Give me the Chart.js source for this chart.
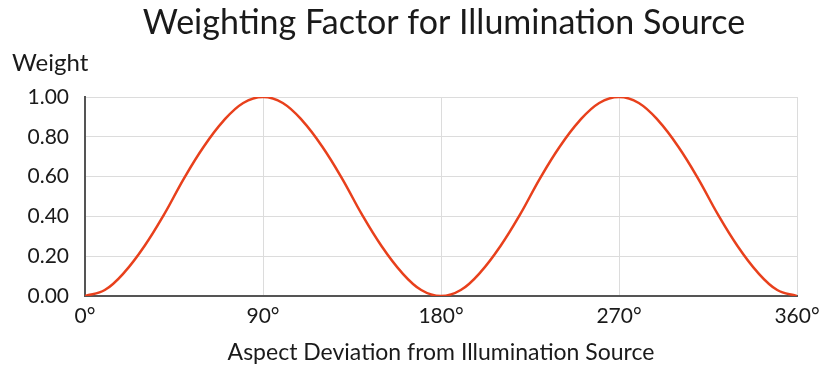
<!DOCTYPE html>
<html>
<head>
  <title>Weighting Factor for Illumination Source</title>
  <script src="https://cdn.jsdelivr.net/npm/chart.js"></script>
  <style>
    html, body { margin: 0; padding: 0; background: #fff; }
    #wrap { width: 828px; height: 367px; }
  </style>
</head>
<body>
  <div id="wrap"><canvas id="weightChart"></canvas></div>
  <script>
    // aspect deviation in degrees, weight read every 10 degrees
    var angles = [0, 10, 20, 30, 40, 50, 60, 70, 80, 90,
                  100, 110, 120, 130, 140, 150, 160, 170, 180,
                  190, 200, 210, 220, 230, 240, 250, 260, 270,
                  280, 290, 300, 310, 320, 330, 340, 350, 360];
    var weights = [0.00, 0.03, 0.12, 0.25, 0.41, 0.59, 0.75, 0.88, 0.97, 1.00,
                   0.97, 0.88, 0.75, 0.59, 0.41, 0.25, 0.12, 0.03, 0.00,
                   0.03, 0.12, 0.25, 0.41, 0.59, 0.75, 0.88, 0.97, 1.00,
                   0.97, 0.88, 0.75, 0.59, 0.41, 0.25, 0.12, 0.03, 0.00];
    var xTicks = [0, 90, 180, 270, 360];

    var chartTitle = 'Weighting Factor for Illumination Source';
    var yTitle = 'Weight';
    var xTitle = 'Aspect Deviation from Illumination Source';
    var fontFamily = 'Lato, "Open Sans", sans-serif';
    var textColor = '#1a1a1a';

    var points = angles.map(function (a, i) { return { x: a, y: weights[i] }; });

    // title and the horizontal "Weight" label sit above the plot
    var headings = {
      id: 'headings',
      afterDraw: function (chart) {
        var ctx = chart.ctx;
        ctx.save();
        ctx.fillStyle = textColor;
        ctx.textBaseline = 'middle';
        ctx.textAlign = 'center';
        ctx.font = '34px ' + fontFamily;
        ctx.fillText(chartTitle, 444, 23);
        ctx.textAlign = 'left';
        ctx.font = '24px ' + fontFamily;
        ctx.fillText(yTitle, 12, 63);
        ctx.restore();
      }
    };

    var ctx = document.getElementById('weightChart').getContext('2d');
    new Chart(ctx, {
      type: 'line',
      data: {
        datasets: [{
          data: points,
          borderColor: '#e8401c',
          borderWidth: 2.5,
          pointRadius: 0,
          fill: false,
          tension: 0.4
        }]
      },
      options: {
        responsive: true,
        maintainAspectRatio: false,
        animation: false,
        layout: { padding: { top: 97, right: 31, left: 0, bottom: 0 } },
        plugins: {
          legend: { display: false },
          tooltip: { enabled: false }
        },
        scales: {
          x: {
            type: 'linear',
            min: 0,
            max: 360,
            afterBuildTicks: function (scale) {
              scale.ticks = xTicks.map(function (v) { return { value: v }; });
            },
            afterFit: function (scale) { scale.height = 71; },
            ticks: {
              color: textColor,
              font: { family: fontFamily, size: 21 },
              padding: 8,
              maxRotation: 0,
              callback: function (v) { return v + '°'; }
            },
            grid: {
              color: function (c) { return c.tick && c.tick.value === 0 ? '#555' : '#dcdcdc'; },
              lineWidth: 1,
              drawTicks: false
            },
            border: { color: '#555', width: 2 },
            title: {
              display: true,
              text: xTitle,
              color: textColor,
              font: { family: fontFamily, size: 23 },
              padding: { top: 2, bottom: 1 }
            }
          },
          y: {
            min: 0,
            max: 1,
            afterFit: function (scale) { scale.width = 85; },
            ticks: {
              stepSize: 0.2,
              color: textColor,
              font: { family: fontFamily, size: 21 },
              padding: 16,
              callback: function (v) { return v.toFixed(2); }
            },
            grid: {
              color: '#dcdcdc',
              lineWidth: 1,
              drawTicks: false
            },
            border: { color: '#555', width: 2 }
          }
        }
      },
      plugins: [headings]
    });
  </script>
</body>
</html>
